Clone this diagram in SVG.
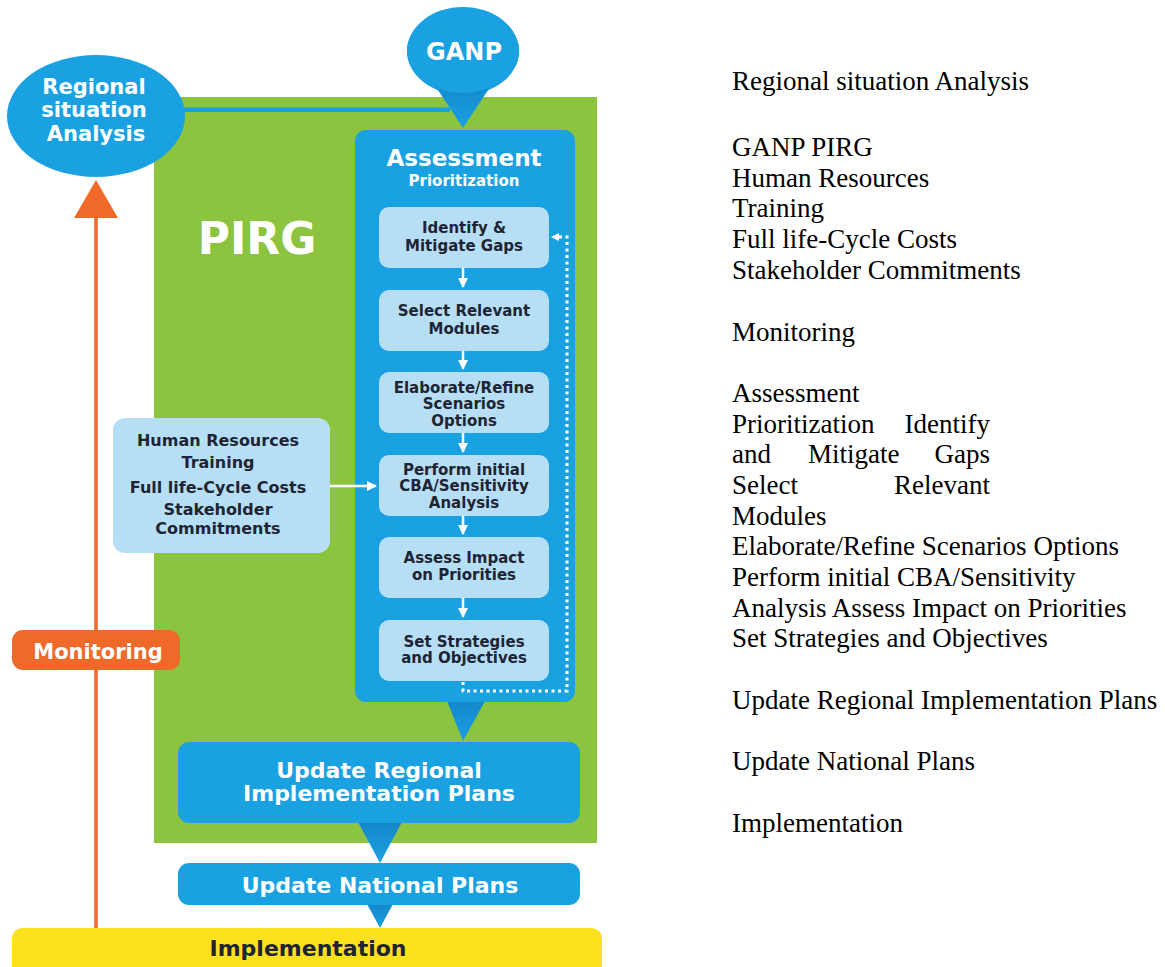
<svg xmlns="http://www.w3.org/2000/svg" width="1165" height="967" viewBox="0 0 1165 967">
  <style>
    .blue { fill: #1aa1e2; }
    .light { fill: #b6dff6; }
    .green { fill: #8cc43f; }
    .orange { fill: #ef6a2a; }
    .yellow { fill: #fde11c; }
    .w { font-family: "DejaVu Sans", "Liberation Sans", sans-serif; font-weight: bold; fill: #ffffff; text-anchor: middle; }
    .d { font-family: "DejaVu Sans", "Liberation Sans", sans-serif; font-weight: bold; fill: #1e2433; text-anchor: middle; }
    .step { font-size: 15px; }
    .side { font-size: 16px; }
    .note { font-family: "Liberation Serif", "Times New Roman", serif; font-size: 27px; fill: #000000; }
    .flow { stroke: #ffffff; stroke-width: 2.5; fill: none; }
    .dots { stroke: #ffffff; stroke-width: 3; fill: none; stroke-dasharray: 3 3.5; }
  </style>
  <defs>
    <linearGradient id="pin" x1="0" y1="0" x2="0" y2="1">
      <stop offset="0" stop-color="#1487c9"/>
      <stop offset="1" stop-color="#1aa1e2"/>
    </linearGradient>
    <marker id="wa" viewBox="0 0 10 10" refX="9" refY="5" markerWidth="4" markerHeight="4" orient="auto" markerUnits="strokeWidth">
      <path d="M0,0 L10,5 L0,10 z" fill="#ffffff"/>
    </marker>
  </defs>

  <rect width="1165" height="967" fill="#ffffff"/>

  <!-- PIRG area -->
  <g id="pirg">
    <rect class="green" x="154" y="97" width="443" height="746"/>
    <text class="w" x="257" y="254" font-size="44">PIRG</text>
  </g>

  <!-- connectors -->
  <g id="connectors">
    <!-- link from regional analysis to GANP pin -->
    <rect class="blue" x="150" y="107.5" width="300" height="4.5"/>
    <!-- monitoring feedback -->
    <line x1="96" y1="928" x2="96" y2="214" stroke="#ef6a2a" stroke-width="3.5"/>
    <polygon class="orange" points="96,180 118,218 74,218"/>
    <!-- pins between boxes -->
    <polygon fill="url(#pin)" points="447,701 485,701 463,741"/>
    <polygon fill="url(#pin)" points="358,822 402,822 380,863"/>
    <polygon fill="url(#pin)" points="367,904 393,904 380,928"/>
  </g>

  <g id="regional-analysis">
    <ellipse class="blue" cx="96" cy="116" rx="89" ry="61"/>
    <text class="w" x="94" y="94" font-size="21">Regional</text>
    <text class="w" x="94" y="117" font-size="21">situation</text>
    <text class="w" x="96" y="141" font-size="21">Analysis</text>
  </g>

  <g id="ganp">
    <ellipse class="blue" cx="463" cy="51" rx="56" ry="44"/>
    <polygon fill="url(#pin)" points="430,78 496,78 463,128"/>
    <ellipse class="blue" cx="463" cy="51" rx="56" ry="42"/>
    <text class="w" x="464" y="60" font-size="24">GANP</text>
  </g>

  <g id="assessment">
    <rect class="blue" x="355" y="130" width="220" height="572" rx="11"/>
    <text class="w" x="464" y="166" font-size="23">Assessment</text>
    <text class="w" x="464" y="186" font-size="15">Prioritization</text>
  </g>

  <g id="step-identify">
    <rect class="light" x="379" y="207" width="170" height="61" rx="10"/>
    <text class="d step" x="464" y="233">Identify &amp;</text>
    <text class="d step" x="464" y="251">Mitigate Gaps</text>
  </g>
  <g id="step-select">
    <rect class="light" x="379" y="290" width="170" height="61" rx="10"/>
    <text class="d step" x="464" y="316">Select Relevant</text>
    <text class="d step" x="464" y="334">Modules</text>
  </g>
  <g id="step-elaborate">
    <rect class="light" x="379" y="372" width="170" height="61" rx="10"/>
    <text class="d step" x="464" y="393">Elaborate/Refine</text>
    <text class="d step" x="464" y="409">Scenarios</text>
    <text class="d step" x="464" y="426">Options</text>
  </g>
  <g id="step-cba">
    <rect class="light" x="379" y="455" width="170" height="61" rx="10"/>
    <text class="d step" x="464" y="475">Perform initial</text>
    <text class="d step" x="464" y="491">CBA/Sensitivity</text>
    <text class="d step" x="464" y="508">Analysis</text>
  </g>
  <g id="step-impact">
    <rect class="light" x="379" y="537" width="170" height="61" rx="10"/>
    <text class="d step" x="464" y="563">Assess Impact</text>
    <text class="d step" x="464" y="580">on Priorities</text>
  </g>
  <g id="step-strategies">
    <rect class="light" x="379" y="620" width="170" height="61" rx="10"/>
    <text class="d step" x="464" y="647">Set Strategies</text>
    <text class="d step" x="464" y="663">and Objectives</text>
  </g>

  <!-- white step arrows and review loop -->
  <g id="step-connectors">
    <line class="flow" x1="463" y1="268" x2="463" y2="287" marker-end="url(#wa)"/>
    <line class="flow" x1="463" y1="351" x2="463" y2="369" marker-end="url(#wa)"/>
    <line class="flow" x1="463" y1="433" x2="463" y2="452" marker-end="url(#wa)"/>
    <line class="flow" x1="463" y1="516" x2="463" y2="534" marker-end="url(#wa)"/>
    <line class="flow" x1="463" y1="598" x2="463" y2="617" marker-end="url(#wa)"/>
    <line class="flow" x1="330" y1="486" x2="376" y2="486" marker-end="url(#wa)"/>
    <polyline class="dots" points="463,682 463,691 567,691 567,237 558,237"/>
    <polygon fill="#ffffff" points="551,237 559,233 559,241"/>
  </g>

  <g id="resources">
    <rect class="light" x="113" y="418" width="217" height="135" rx="12"/>
    <text class="d side" x="218" y="446">Human Resources</text>
    <text class="d side" x="218" y="468">Training</text>
    <text class="d side" x="218" y="493">Full life-Cycle Costs</text>
    <text class="d side" x="218" y="515">Stakeholder</text>
    <text class="d side" x="218" y="534">Commitments</text>
  </g>

  <g id="monitoring">
    <rect class="orange" x="12" y="630" width="168" height="40" rx="11"/>
    <text class="w" x="98" y="659" font-size="21">Monitoring</text>
  </g>

  <g id="regional-plans">
    <rect class="blue" x="178" y="742" width="402" height="81" rx="11"/>
    <text class="w" x="379" y="778" font-size="22">Update Regional</text>
    <text class="w" x="379" y="801" font-size="22">Implementation Plans</text>
  </g>

  <g id="national-plans">
    <rect class="blue" x="178" y="863" width="402" height="42" rx="11"/>
    <text class="w" x="380" y="893" font-size="22">Update National Plans</text>
  </g>

  <g id="implementation">
    <path class="yellow" d="M12,967 V940 Q12,928 24,928 H590 Q602,928 602,940 V967 Z"/>
    <text class="d" x="308" y="956" font-size="22">Implementation</text>
  </g>

  <!-- text column -->
  <g id="notes" class="note">
    <text x="732" y="90">Regional situation Analysis</text>
    <text x="732" y="156">GANP PIRG</text>
    <text x="732" y="187">Human Resources</text>
    <text x="732" y="217">Training</text>
    <text x="732" y="248">Full life-Cycle Costs</text>
    <text x="732" y="279">Stakeholder Commitments</text>
    <text x="732" y="341">Monitoring</text>
    <text x="732" y="402">Assessment</text>
    <text x="732" y="433">Prioritization</text>
    <text x="990" y="433" text-anchor="end">Identify</text>
    <text x="732" y="463">and</text>
    <text x="808" y="463">Mitigate</text>
    <text x="990" y="463" text-anchor="end">Gaps</text>
    <text x="732" y="494">Select</text>
    <text x="990" y="494" text-anchor="end">Relevant</text>
    <text x="732" y="525">Modules</text>
    <text x="732" y="555">Elaborate/Refine Scenarios Options</text>
    <text x="732" y="586">Perform initial CBA/Sensitivity</text>
    <text x="732" y="617">Analysis Assess Impact on Priorities</text>
    <text x="732" y="647">Set Strategies and Objectives</text>
    <text x="732" y="709">Update Regional Implementation Plans</text>
    <text x="732" y="770">Update National Plans</text>
    <text x="732" y="832">Implementation</text>
  </g>
</svg>
